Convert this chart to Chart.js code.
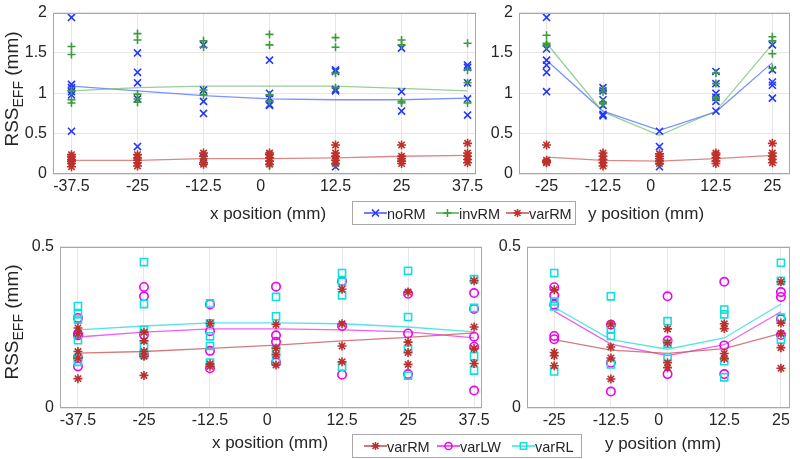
<!DOCTYPE html>
<html><head><meta charset="utf-8">
<script src="https://cdn.jsdelivr.net/npm/chart.js@4"></script>
<style>
body{margin:0;background:#fff;width:800px;height:459px;overflow:hidden;position:relative;font-family:"Liberation Sans",Arial,Helvetica,sans-serif;color:#262626}
canvas{position:absolute}
.t{position:absolute;white-space:nowrap;font-size:17px;transform:translate(-50%,-50%);line-height:1}
.yt{transform:translate(-50%,-50%) rotate(-90deg);font-size:19px}
.yt sub{font-size:14px;vertical-align:-5px}
.leg{position:absolute;border:1px solid #a8a8a8;background:#fff;box-sizing:border-box}
.li{position:absolute;font-size:14.5px;line-height:1;white-space:nowrap}
.li svg{position:absolute}
</style></head><body>
<canvas id="c1"></canvas><canvas id="c2"></canvas><canvas id="c3"></canvas><canvas id="c4"></canvas>
<div class="t yt" style="left:13px;top:89px">RSS<sub>EFF</sub> (mm)</div>
<div class="t yt" style="left:13px;top:322px">RSS<sub>EFF</sub> (mm)</div>
<div class="t" style="left:268px;top:213px">x position (mm)</div>
<div class="t" style="left:646px;top:213px">y position (mm)</div>
<div class="t" style="left:270px;top:442px">x position (mm)</div>
<div class="t" style="left:663px;top:443px">y position (mm)</div>
<div class="leg" id="leg1" style="left:352px;top:201px;width:224px;height:24px"></div>
<div class="leg" id="leg2" style="left:352px;top:434px;width:230px;height:24px"></div>
<script>
// ---------- data ----------
const xCats = [-37.5, -25, -12.5, 0, 12.5, 25, 37.5];
const xTickLabels = ['-37.5', '-25', '-12.5', '0    ', '12.5', '25', '37.5'];
const yCats = [-25, -12.5, 0, 12.5, 25];
const yTickLabels = ['-25', '-12.5', '0    ', '12.5', '25'];
const topYTicks = [0, 0.5, 1, 1.5, 2];
const topYTickLabels = ['0', '0.5', '1', '1.5', '2'];
const botYTicks = [0, 0.5];
const botYTickLabels = ['0', '0.5'];

// top-left: x position, noRM / invRM / varRM
const xNoRM = [[1.94,1.11,1.07,1.02,0.98,0.53],[1.50,1.26,1.13,0.93,0.34],[1.60,1.04,0.90,0.75,0.20],[1.41,1.00,0.94,0.86,0.85],[1.29,1.27,1.05,1.03,0.09],[1.56,1.02,0.78],[1.35,1.32,1.13,0.93,0.73]];
const xInvRM = [[1.58,1.48,1.03,0.92,0.88,0.22],[1.74,1.66,0.99,0.93,0.89],[1.65,1.57,1.04,0.98,0.19],[1.73,1.60,0.98,0.90,0.10],[1.69,1.57,1.25,1.07,0.11],[1.66,1.60,0.90,0.88],[1.62,1.29,1.13,0.88]];
const xVarRM = [[0.24,0.21,0.18,0.16,0.13,0.09],[0.24,0.20,0.17,0.14,0.10],[0.26,0.22,0.14,0.12],[0.26,0.24,0.20,0.16,0.12],[0.36,0.26,0.22,0.17,0.13],[0.36,0.22,0.19,0.16,0.13],[0.38,0.26,0.22,0.18,0.14]];
const xNoRMFit = [1.09,1.03,0.97,0.93,0.92,0.92,0.94];
const xInvRMFit = [1.03,1.07,1.09,1.09,1.09,1.06,1.03];
const xVarRMFit = [0.17,0.17,0.19,0.19,0.20,0.22,0.23];

// top-right: y position, noRM / invRM / varRM
const yNoRM = [[1.94,1.55,1.41,1.35,1.26,1.02],[1.07,1.03,0.92,0.85,0.74,0.72],[0.53,0.34,0.09],[1.27,1.12,1.00,0.95,0.90,0.78],[1.60,1.29,1.14,1.10,0.94]];
const yInvRM = [[1.72,1.62,1.60,1.59],[1.05,1.02,0.89,0.87],[0.13,0.12],[1.25,1.12,0.95,0.93],[1.70,1.65,1.49,1.31]];
const yVarRM = [[0.36,0.17,0.15,0.14],[0.26,0.22,0.18,0.14,0.10],[0.25,0.22,0.19,0.16,0.13],[0.26,0.24,0.20,0.16,0.13],[0.38,0.26,0.22,0.18,0.14]];
const yNoRMFit = [1.41,0.78,0.54,0.77,1.38];
const yInvRMFit = [1.62,0.77,0.48,0.78,1.61];
const yVarRMFit = [0.21,0.17,0.16,0.19,0.23];

// bottom-left: x position, varRM / varLW / varRL
const bxVarRM = [[0.248,0.23,0.175,0.155,0.091],[0.235,0.208,0.175,0.16,0.101],[0.262,0.136,0.129],[0.259,0.185,0.165,0.133],[0.368,0.261,0.192,0.143],[0.359,0.204,0.172,0.135],[0.394,0.251,0.184,0.138]];
const bxVarLW = [[0.279,0.23,0.225,0.157,0.129],[0.375,0.346,0.227,0.165],[0.321,0.238,0.177,0.123],[0.376,0.225,0.205,0.141],[0.393,0.254,0.103],[0.354,0.231,0.105],[0.356,0.307,0.221,0.19,0.054]];
const bxVarRL = [[0.316,0.291,0.274,0.21,0.155,0.143],[0.452,0.322,0.242,0.19,0.165],[0.324,0.262,0.222,0.192,0.141],[0.344,0.284,0.18,0.149],[0.418,0.39,0.349,0.128],[0.425,0.282,0.182,0.1],[0.399,0.31,0.16,0.116]];
const bxVarRMFit = [0.17,0.175,0.185,0.195,0.208,0.219,0.233];
const bxVarLWFit = [0.22,0.235,0.245,0.245,0.242,0.236,0.217];
const bxVarRLFit = [0.242,0.254,0.264,0.264,0.261,0.251,0.236];

// bottom-right: y position, varRM / varLW / varRL
const byVarRM = [[0.366,0.172,0.162,0.131],[0.26,0.189,0.155,0.09],[0.245,0.202,0.14,0.125],[0.261,0.246,0.169,0.153],[0.391,0.263,0.231,0.187,0.123]];
const byVarLW = [[0.374,0.349,0.32,0.223,0.213],[0.258,0.14,0.051],[0.346,0.209,0.105],[0.391,0.194,0.105],[0.359,0.344,0.275,0.226]];
const byVarRL = [[0.418,0.33,0.315,0.113],[0.346,0.243,0.223,0.135],[0.269,0.199,0.157],[0.305,0.29,0.145,0.095],[0.45,0.394,0.28,0.212]];
const byVarRMFit = [0.212,0.179,0.169,0.184,0.231];
const byVarLWFit = [0.3,0.198,0.162,0.196,0.298];
const byVarRLFit = [0.312,0.212,0.182,0.217,0.322];

// ---------- styles ----------
const C = {
  noRM:{c:'#2236ff', l:'rgba(80,110,255,0.75)', s:'crossRot', r:5},
  invRM:{c:'#3a9c3a', l:'rgba(110,185,110,0.7)', s:'cross', r:4},
  varRM:{c:'#c0302b', l:'rgba(210,95,95,0.75)', s:'star', r:4.5},
  bvarRM:{c:'#b8312f', l:'rgba(200,90,90,0.8)', s:'star', r:4.5},
  varLW:{c:'#ee00ee', l:'rgba(235,70,235,0.85)', s:'circle', r:4.2},
  varRL:{c:'#12dede', l:'rgba(70,225,225,0.9)', s:'rect', r:5}
};
const FONT = '"Liberation Sans", Arial, Helvetica, sans-serif';
const PADL = 46, PADT = 8, PADR = 18, PADB = 30;

const boxPlugin = {
  id:'box',
  afterDraw(chart){
    const a = chart.chartArea, ctx = chart.ctx;
    ctx.save(); ctx.strokeStyle = '#a8a8a8'; ctx.lineWidth = 1;
    ctx.strokeRect(Math.round(a.left)+0.5, Math.round(a.top)+0.5, Math.round(a.right-a.left)-1, Math.round(a.bottom-a.top)-1);
    ctx.restore();
  }
};

function ptsData(cols, cats){ const d=[]; cols.forEach((arr,i)=>arr.forEach(v=>d.push({x:cats[i], y:v}))); return d; }
function fitData(fit, cats){ return fit.map((v,i)=>({x:cats[i], y:v})); }

function makeChart(id, box, cats, catLabels, yTicks, yLabels, series){
  const cv = document.getElementById(id);
  const w = box.right-box.left+PADL+PADR, h = box.bottom-box.top+PADT+PADB;
  cv.width = w; cv.height = h; cv.style.width = w+'px'; cv.style.height = h+'px';
  cv.style.left = (box.left-PADL)+'px'; cv.style.top = (box.top-PADT)+'px';
  const datasets = [];
  series.forEach(s=>{
    datasets.push({data:ptsData(s.cols,cats), showLine:false, pointStyle:s.st.s, pointRadius:s.st.r,
      pointBorderColor:s.st.c, pointBackgroundColor:'rgba(0,0,0,0)', pointBorderWidth:1.6, borderColor:s.st.c});
  });
  series.forEach(s=>{
    datasets.push({data:fitData(s.fit,cats), showLine:true, pointRadius:0, borderColor:s.st.l, borderWidth:1.3, fill:false});
  });
  new Chart(cv, {
    type:'scatter',
    data:{datasets},
    options:{
      responsive:false, animation:false, events:[],
      layout:{padding:{left:0, top:PADT, right:PADR, bottom:0}},
      plugins:{legend:{display:false}, tooltip:{enabled:false}},
      scales:{
        x:{type:'linear', min:box.min, max:box.max,
          afterBuildTicks:s=>{s.ticks = cats.map(v=>({value:v}));},
          afterFit:s=>{s.height = PADB;},
          ticks:{callback:(v,i)=>catLabels[i], font:{size:16, family:FONT}, color:'#262626', padding:3, maxRotation:0, autoSkip:false},
          grid:{color:'#e6e6e6', drawTicks:false, lineWidth:1}, border:{display:false}},
        y:{type:'linear', min:0, max:yTicks[yTicks.length-1],
          afterBuildTicks:s=>{s.ticks = yTicks.map(v=>({value:v}));},
          afterFit:s=>{s.width = PADL;},
          ticks:{callback:(v,i)=>yLabels[i], font:{size:16, family:FONT}, color:'#262626', padding:6, autoSkip:false},
          grid:{color:'#e6e6e6', drawTicks:false, lineWidth:1}, border:{display:false}}
      }
    },
    plugins:[boxPlugin]
  });
}

makeChart('c1', {left:53, top:5, right:476, bottom:174, min:-41, max:39.1}, xCats, xTickLabels, topYTicks, topYTickLabels, [
  {cols:xVarRM, fit:xVarRMFit, st:C.varRM},
  {cols:xInvRM, fit:xInvRMFit, st:C.invRM},
  {cols:xNoRM, fit:xNoRMFit, st:C.noRM}
]);
makeChart('c2', {left:519, top:5, right:790, bottom:174, min:-31.1, max:28.9}, yCats, yTickLabels, topYTicks, topYTickLabels, [
  {cols:yVarRM, fit:yVarRMFit, st:C.varRM},
  {cols:yInvRM, fit:yInvRMFit, st:C.invRM},
  {cols:yNoRM, fit:yNoRMFit, st:C.noRM}
]);
makeChart('c3', {left:60, top:239, right:482, bottom:408, min:-40.9, max:39}, xCats, xTickLabels, botYTicks, botYTickLabels, [
  {cols:bxVarRM, fit:bxVarRMFit, st:C.bvarRM},
  {cols:bxVarRL, fit:bxVarRLFit, st:C.varRL},
  {cols:bxVarLW, fit:bxVarLWFit, st:C.varLW}
]);
makeChart('c4', {left:527, top:239, right:790, bottom:408, min:-31, max:27}, yCats, yTickLabels, botYTicks, botYTickLabels, [
  {cols:byVarRM, fit:byVarRMFit, st:C.bvarRM},
  {cols:byVarRL, fit:byVarRLFit, st:C.varRL},
  {cols:byVarLW, fit:byVarLWFit, st:C.varLW}
]);

// ---------- legends ----------
function sym(style, color){
  let m = '';
  if(style==='crossRot') m = `<path d="M8 3.5L15 10.5M15 3.5L8 10.5" stroke="${color}" stroke-width="1.6"/>`;
  else if(style==='cross') m = `<path d="M11.5 3L11.5 11M7.5 7L15.5 7" stroke="${color}" stroke-width="1.5"/>`;
  else if(style==='star') m = `<path d="M11.5 3L11.5 11M7.5 7L15.5 7M8.5 4L14.5 10M14.5 4L8.5 10" stroke="${color}" stroke-width="1.5"/>`;
  else if(style==='circle') m = `<circle cx="11.5" cy="7" r="3.6" fill="none" stroke="${color}" stroke-width="1.5"/>`;
  else if(style==='rect') m = `<rect x="8.3" y="3.8" width="6.4" height="6.4" fill="none" stroke="${color}" stroke-width="1.5"/>`;
  return `<svg width="23" height="14" viewBox="0 0 23 14"><path d="M0 7L23 7" stroke="${color}" stroke-width="1.3"/>${m}</svg>`;
}
function legend(id, items){
  const el = document.getElementById(id);
  items.forEach(it=>{
    const d = document.createElement('div');
    d.className = 'li';
    d.style.left = (it.x - 352 - 1)+'px'; d.style.top = '4px';
    d.innerHTML = `<span style="position:absolute;left:0;top:0">${sym(it.st.s, it.st.c)}</span><span style="position:absolute;left:${it.tx}px;top:1px">${it.name}</span>`;
    el.appendChild(d);
  });
}
legend('leg1', [
  {x:364, tx:23, name:'noRM', st:C.noRM},
  {x:436, tx:23, name:'invRM', st:C.invRM},
  {x:506, tx:23, name:'varRM', st:C.varRM}
]);
legend('leg2', [
  {x:364, tx:23, name:'varRM', st:C.bvarRM},
  {x:437, tx:23, name:'varLW', st:C.varLW},
  {x:512, tx:23, name:'varRL', st:C.varRL}
]);
</script>
</body></html>
